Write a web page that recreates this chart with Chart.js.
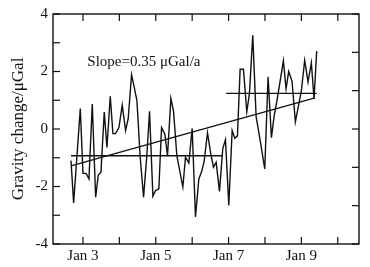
<!DOCTYPE html>
<html>
<head>
<meta charset="utf-8">
<script src="https://cdn.jsdelivr.net/npm/chart.js@4/dist/chart.umd.min.js"></script>
<style>
  html, body { margin: 0; padding: 0; background: #fff; }
  #wrap { width: 370px; height: 267px; }
</style>
</head>
<body>
<div id="wrap"><canvas id="gravityChart" width="370" height="267"></canvas></div>
<script>
// time in days of January, gravity change in µGal
const times = [2.671, 2.744, 2.927, 3.000, 3.091, 3.165, 3.256, 3.348, 3.421, 3.494,
    3.585, 3.659, 3.750, 3.823, 3.896, 3.988, 4.079, 4.171, 4.244, 4.335,
    4.409, 4.482, 4.573, 4.665, 4.756, 4.829, 4.921, 4.994, 5.085, 5.159,
    5.250, 5.323, 5.415, 5.488, 5.579, 5.744, 5.817, 5.909, 6.000, 6.091,
    6.183, 6.256, 6.329, 6.421, 6.512, 6.585, 6.659, 6.750, 6.841, 6.915,
    7.006, 7.098, 7.171, 7.244, 7.317, 7.409, 7.500, 7.573, 7.665, 7.756,
    7.866, 7.994, 8.085, 8.177, 8.250, 8.341, 8.506, 8.579, 8.652, 8.744,
    8.835, 8.927, 9.000, 9.091, 9.183, 9.274, 9.348, 9.421];
const gravity = [-1.1, -2.57, 0.71, -1.54, -1.55, -1.74, 0.87, -2.37, -1.6, -1.5,
    0.59, -0.64, 1.14, -0.16, -0.16, 0.05, 0.83, -0.05, 0.37, 1.89,
    1.45, 0.99, -0.99, -2.37, -0.9, 0.62, -2.34, -2.14, -2.08, 0.05,
    -0.18, -0.93, 1.06, 0.62, -0.93, -2.02, -0.98, -1.18, 0.02, -3.06,
    -1.74, -1.5, -1.13, -0.13, -0.87, -1.33, -1.16, -2.17, -0.68, -0.37,
    -2.66, -0.05, -0.32, -0.24, 2.08, 2.08, 0.6, 1.23, 3.26, 0.44,
    -0.38, -1.39, 1.82, -0.3, 0.44, 1.07, 2.37, 1.4, 2.0, 1.66,
    0.25, 0.85, 1.33, 2.39, 1.64, 2.3, 1.05, 2.71];

// mean levels before / after the step, and the linear trend
const meanBefore = { x: [2.671, 6.841], y: [-0.93, -0.93] };
const meanAfter = { x: [6.933, 9.421], y: [1.24, 1.24] };
const trend = { x: [2.671, 9.375], y: [-1.28, 1.08] };

const xTicks = [3, 5, 7, 9];
const yTicks = [-4, -2, 0, 2, 4];
const slopeText = "Slope=0.35 \u03bcGal/a";

const serif = "'Liberation Serif', 'Times New Roman', serif";

function pts(xs, ys) {
    return xs.map((x, i) => ({ x: x, y: ys[i] }));
}

function lineSet(data, width) {
    return {
        data: data,
        borderColor: "#111",
        borderWidth: width,
        pointRadius: 0,
        tension: 0,
        fill: false
    };
}

const frameTicks = {
    id: "frameTicks",
    afterDraw(chart) {
        const ctx = chart.ctx;
        const a = chart.chartArea;
        ctx.save();
        ctx.strokeStyle = "#111";
        ctx.lineWidth = 1.4;
        ctx.strokeRect(a.left, a.top, a.right - a.left, a.bottom - a.top);
        ctx.lineWidth = 1.2;
        const len = 7;
        ["x", "x2", "y", "y2"].forEach(id => {
            const s = chart.scales[id];
            s.ticks.forEach(t => {
                const p = s.getPixelForValue(t.value);
                ctx.beginPath();
                if (id === "x") { ctx.moveTo(p, a.bottom); ctx.lineTo(p, a.bottom - len); }
                if (id === "x2") { ctx.moveTo(p, a.top); ctx.lineTo(p, a.top + len); }
                if (id === "y") { ctx.moveTo(a.left, p); ctx.lineTo(a.left + len, p); }
                if (id === "y2") { ctx.moveTo(a.right, p); ctx.lineTo(a.right - len, p); }
                ctx.stroke();
            });
        });
        // slope label
        ctx.fillStyle = "#111";
        ctx.font = "15px " + serif;
        ctx.textBaseline = "middle";
        ctx.textAlign = "left";
        ctx.fillText(slopeText, chart.scales.x.getPixelForValue(3.12), chart.scales.y.getPixelForValue(2.34));
        ctx.restore();
    }
};

const ctx = document.getElementById("gravityChart").getContext("2d");
const myChart = new Chart(ctx, {
    type: "line",
    data: {
        datasets: [
            lineSet(pts(times, gravity), 1.4),
            lineSet(pts(meanBefore.x, meanBefore.y), 1.4),
            lineSet(pts(meanAfter.x, meanAfter.y), 1.4),
            lineSet(pts(trend.x, trend.y), 1.4)
        ]
    },
    options: {
        responsive: false,
        animation: false,
        layout: { padding: 0 },
        plugins: { legend: { display: false }, tooltip: { enabled: false } },
        scales: {
            x: {
                type: "linear",
                position: "bottom",
                min: 2.177,
                max: 10.583,
                grid: { display: false, drawTicks: false },
                border: { display: false },
                ticks: {
                    stepSize: 1,
                    includeBounds: false,
                    autoSkip: false,
                    maxRotation: 0,
                    padding: 3,
                    color: "#111",
                    font: { family: serif, size: 15 },
                    callback: v => xTicks.includes(Math.round(v)) && Math.abs(v - Math.round(v)) < 1e-6 ? "Jan " + Math.round(v) : ""
                },
                afterFit: s => { s.height = 23; }
            },
            x2: {
                type: "linear",
                position: "top",
                min: 2.177,
                max: 10.583,
                grid: { display: false, drawTicks: false },
                border: { display: false },
                ticks: { stepSize: 1, includeBounds: false, display: false },
                afterFit: s => { s.height = 12; }
            },
            y: {
                type: "linear",
                position: "left",
                min: -4,
                max: 4,
                grid: { display: false, drawTicks: false },
                border: { display: false },
                ticks: {
                    stepSize: 1,
                    autoSkip: false,
                    padding: 5,
                    color: "#111",
                    font: { family: serif, size: 15 },
                    callback: v => yTicks.includes(v) ? String(v) : ""
                },
                title: {
                    display: true,
                    text: "Gravity change/\u03bcGal",
                    color: "#111",
                    font: { family: serif, size: 17 },
                    padding: { top: 8, bottom: 0 }
                },
                afterFit: s => { s.width = 53; }
            },
            y2: {
                type: "linear",
                position: "right",
                min: -3,
                max: 3,
                grid: { display: false, drawTicks: false },
                border: { display: false },
                ticks: { stepSize: 1, includeBounds: false, display: false },
                afterFit: s => { s.width = 11; }
            }
        }
    },
    plugins: [frameTicks]
});
</script>
</body>
</html>
